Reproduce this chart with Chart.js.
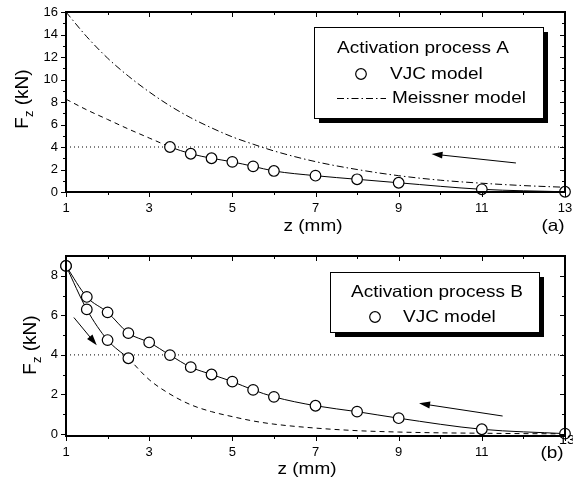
<!DOCTYPE html>
<html>
<head>
<meta charset="utf-8">
<script src="https://cdn.jsdelivr.net/npm/chart.js@4.4.1/dist/chart.umd.min.js"></script>
<style>
    body { margin: 0; background: #fff; }
    #wrap { position: relative; width: 573px; height: 481px; }
    .panel { position: absolute; left: 0; width: 573px; }
    #panelA { top: 0; height: 240px; }
    #panelB { top: 240px; height: 241px; }
</style>
</head>
<body>
<div id="wrap">
    <div class="panel" id="panelA"><canvas id="chartA"></canvas></div>
    <div class="panel" id="panelB"><canvas id="chartB"></canvas></div>
</div>
<script>
// axis ticks
const zTicks = [1, 3, 5, 7, 9, 11, 13];
const zMinor = [2, 4, 6, 8, 10, 12];
const fTicksA = [0, 2, 4, 6, 8, 10, 12, 14, 16];
const fMinorA = [1, 3, 5, 7, 9, 11, 13, 15];
const fTicksB = [0, 2, 4, 6, 8];
const fMinorB = [1, 3, 5, 7];

// panel (a): activation process A
const zVjcA = [3.5, 4, 4.5, 5, 5.5, 6, 7, 8, 9, 11, 13];
const fVjcA = [4.0, 3.4, 3.0, 2.68, 2.28, 1.87, 1.45, 1.13, 0.82, 0.24, 0.02];
const zDashA = [1, 1.5, 2, 2.5, 3, 3.5];
const fDashA = [8.25, 7.3, 6.45, 5.6, 4.8, 4.0];
const zMeissner = [1, 1.5, 2, 2.5, 3, 3.5, 4, 4.5, 5, 5.5, 6, 7, 8, 9, 10, 11, 12, 13];
const fMeissner = [16, 13.8, 11.9, 10.3, 8.9, 7.66, 6.6, 5.7, 4.9, 4.25, 3.65, 2.7, 2.0, 1.45, 1.05, 0.78, 0.57, 0.42];

// panel (b): activation process B
const zVjcB = [1, 1.5, 2, 2.5, 3, 3.5, 4, 4.5, 5, 5.5, 6, 7, 8, 9, 11, 13];
const fVjcB = [8.5, 6.93, 6.15, 5.1, 4.63, 3.99, 3.38, 3.01, 2.65, 2.23, 1.88, 1.43, 1.13, 0.8, 0.24, 0.02];
const zLoadB = [1, 1.5, 2, 2.5];
const fLoadB = [8.5, 6.3, 4.75, 3.83];
const zDashB = [2.5, 3, 3.5, 4, 4.5, 5, 5.5, 6, 7, 8, 9, 10, 11, 12, 13];
const fDashB = [3.83, 2.75, 2.02, 1.48, 1.13, 0.88, 0.66, 0.5, 0.3, 0.17, 0.1, 0.06, 0.04, 0.02, 0.01];

// 4 kN reference level
const zRef = [1, 13];
const fRef = [4, 4];

// arrows, in data units: [z, F] start -> tip
const arrowsA = [[[11.82, 2.58], [9.79, 3.38]]];
const arrowsB = [[[1.19, 5.89], [1.74, 4.49]], [[11.5, 0.91], [9.49, 1.55]]];

const FONT = "'Liberation Sans', Arial, Helvetica, sans-serif";
const STRETCH = 1.15;

Chart.defaults.font.family = FONT;
Chart.defaults.color = '#000';

function pts(xs, ys) {
    return xs.map((x, i) => ({ x, y: ys[i] }));
}

function stretchText(ctx, text, x, y, align, size) {
    ctx.save();
    ctx.font = size + 'px ' + FONT;
    ctx.translate(x, y);
    ctx.scale(STRETCH, 1);
    ctx.textAlign = align;
    ctx.textBaseline = 'middle';
    ctx.fillText(text, 0, 0);
    ctx.restore();
}

function drawArrow(ctx, x0, y0, x1, y1) {
    const ang = Math.atan2(y1 - y0, x1 - x0);
    const len = 11, half = 3.5;
    ctx.beginPath();
    ctx.moveTo(x0, y0);
    ctx.lineTo(x1 - Math.cos(ang) * len * 0.8, y1 - Math.sin(ang) * len * 0.8);
    ctx.stroke();
    ctx.beginPath();
    ctx.moveTo(x1, y1);
    ctx.lineTo(x1 - Math.cos(ang) * len - Math.sin(ang) * half, y1 - Math.sin(ang) * len + Math.cos(ang) * half);
    ctx.lineTo(x1 - Math.cos(ang) * len + Math.sin(ang) * half, y1 - Math.sin(ang) * len - Math.cos(ang) * half);
    ctx.closePath();
    ctx.fill();
}

function vjcDataset(xs, ys) {
    return {
        data: pts(xs, ys),
        borderColor: '#000',
        borderWidth: 1,
        pointRadius: 5.3,
        pointBorderWidth: 1.2,
        pointBackgroundColor: '#fff',
        pointBorderColor: '#000',
        cubicInterpolationMode: 'monotone',
        clip: false
    };
}

function lineDataset(xs, ys, dash) {
    return {
        data: pts(xs, ys),
        borderColor: '#000',
        borderWidth: 1,
        borderDash: dash,
        pointRadius: 0,
        cubicInterpolationMode: 'monotone'
    };
}

// frame, tick marks, legend, titles and arrows
function decoPlugin(cfg) {
    return {
        id: 'deco',
        afterDraw(chart) {
            const ctx = chart.ctx;
            const xs = chart.scales.x;
            const ys = chart.scales.y;
            const left = Math.round(xs.left), right = Math.round(xs.right);
            const top = Math.round(ys.top), bottom = Math.round(ys.bottom);
            ctx.save();
            ctx.setLineDash([]);
            ctx.strokeStyle = '#000';
            ctx.fillStyle = '#000';

            ctx.lineWidth = 2;
            ctx.beginPath();
            ctx.rect(left, top, right - left, bottom - top);
            ctx.stroke();

            ctx.lineWidth = 1;
            ctx.beginPath();
            const xMarks = zTicks.map((v) => [v, 5]).concat(zMinor.map((v) => [v, 3]));
            xMarks.forEach(([v, l]) => {
                const px = Math.round(xs.getPixelForValue(v)) + 0.5;
                ctx.moveTo(px, bottom); ctx.lineTo(px, bottom + l);
                ctx.moveTo(px, top); ctx.lineTo(px, top + l);
            });
            const yMarks = cfg.yTicks.map((v) => [v, 5]).concat(cfg.yMinor.map((v) => [v, 3]));
            yMarks.forEach(([v, l]) => {
                const py = Math.round(ys.getPixelForValue(v)) + 0.5;
                ctx.moveTo(left - l, py); ctx.lineTo(left, py);
                ctx.moveTo(right - l, py); ctx.lineTo(right, py);
            });
            ctx.stroke();

            // legend box with drop shadow
            const lg = cfg.legend;
            ctx.fillRect(lg.x + 5, lg.y + 5, lg.w, lg.h);
            ctx.fillStyle = '#fff';
            ctx.fillRect(lg.x, lg.y, lg.w, lg.h);
            ctx.fillStyle = '#000';
            ctx.lineWidth = 1;
            ctx.strokeRect(lg.x + 0.5, lg.y + 0.5, lg.w, lg.h);
            lg.rows.forEach((r) => {
                if (r.marker === 'circle') {
                    ctx.beginPath();
                    ctx.lineWidth = 1.2;
                    ctx.arc(r.mx, r.y, 5.3, 0, Math.PI * 2);
                    ctx.stroke();
                } else if (r.marker === 'dashdot') {
                    ctx.beginPath();
                    ctx.lineWidth = 1;
                    ctx.setLineDash([7, 3, 1.5, 3]);
                    ctx.moveTo(r.mx, r.y + 0.5);
                    ctx.lineTo(r.mx2, r.y + 0.5);
                    ctx.stroke();
                    ctx.setLineDash([]);
                }
                stretchText(ctx, r.text, r.x, r.y, 'left', 16.5);
            });

            ctx.lineWidth = 1;
            cfg.arrows.forEach(([from, to]) => {
                drawArrow(ctx, xs.getPixelForValue(from[0]), ys.getPixelForValue(from[1]),
                    xs.getPixelForValue(to[0]), ys.getPixelForValue(to[1]));
            });

            // axis titles
            stretchText(ctx, 'z (mm)', cfg.xTitle[0], cfg.xTitle[1], 'center', 16.5);
            stretchText(ctx, cfg.tag, cfg.tagPos[0], cfg.tagPos[1], 'center', 16.5);
            if (cfg.extraLabel) {
                stretchText(ctx, cfg.extraLabel.text, cfg.extraLabel.x, cfg.extraLabel.y, 'center', 12.5);
            }

            ctx.save();
            ctx.translate(cfg.yTitle[0], cfg.yTitle[1]);
            ctx.rotate(-Math.PI / 2);
            ctx.textBaseline = 'middle';
            ctx.textAlign = 'left';
            ctx.font = '19px ' + FONT;
            const wF = ctx.measureText('F').width;
            ctx.font = '13px ' + FONT;
            const wz = ctx.measureText('z').width;
            ctx.font = '19px ' + FONT;
            const wRest = ctx.measureText(' (kN)').width;
            const x0 = -(wF + wz + wRest) / 2;
            ctx.fillText('F', x0, 0);
            ctx.font = '13px ' + FONT;
            ctx.fillText('z', x0 + wF, 6);
            ctx.font = '19px ' + FONT;
            ctx.fillText(' (kN)', x0 + wF + wz, 0);
            ctx.restore();

            ctx.restore();
        }
    };
}

function makeChart(id, datasets, yMin, yMax, yTicks, yAxisPad, xAxisH, topPad, hide13, deco) {
    return new Chart(document.getElementById(id), {
        type: 'line',
        data: { datasets },
        options: {
            responsive: true,
            maintainAspectRatio: false,
            animation: false,
            layout: { padding: { top: topPad, right: 8, left: 0, bottom: 0 } },
            plugins: { legend: { display: false }, tooltip: { enabled: false } },
            scales: {
                x: {
                    type: 'linear',
                    min: 1,
                    max: 13,
                    grid: { display: false, drawTicks: false },
                    border: { display: true, color: '#000', width: 2 },
                    afterBuildTicks: (s) => { s.ticks = zTicks.map((v) => ({ value: v })); },
                    afterFit: (s) => {
                        s.height = xAxisH;
                        s.paddingLeft = 0;
                        s.paddingRight = 0;
                    },
                    ticks: {
                        maxRotation: 0,
                        autoSkip: false,
                        padding: 9,
                        font: { size: 13 },
                        callback: (v) => (hide13 && v === 13 ? '' : String(v))
                    }
                },
                y: {
                    type: 'linear',
                    min: yMin,
                    max: yMax,
                    grid: { display: false, drawTicks: false },
                    border: { display: true, color: '#000', width: 2 },
                    afterBuildTicks: (s) => { s.ticks = yTicks.map((v) => ({ value: v })); },
                    afterFit: (s) => {
                        s.width = yAxisPad;
                        s.paddingTop = 0;
                        s.paddingBottom = 0;
                    },
                    ticks: { padding: 8, font: { size: 13 }, callback: (v) => String(v) }
                }
            }
        },
        plugins: [decoPlugin(deco)]
    });
}

document.addEventListener('DOMContentLoaded', () => {
    makeChart('chartA', [
        vjcDataset(zVjcA, fVjcA),
        lineDataset(zDashA, fDashA, [5, 4]),
        lineDataset(zMeissner, fMeissner, [7, 3, 1.5, 3]),
        lineDataset(zRef, fRef, [1, 3])
    ], 0, 16, fTicksA, 66, 48, 12, false, {
        yTicks: fTicksA,
        yMinor: fMinorA,
        arrows: arrowsA,
        legend: {
            x: 314, y: 27, w: 229, h: 91,
            rows: [
                { text: 'Activation process A', x: 337, y: 48 },
                { text: 'VJC model', x: 390, y: 74, marker: 'circle', mx: 361 },
                { text: 'Meissner model', x: 392, y: 98, marker: 'dashdot', mx: 337, mx2: 386 }
            ]
        },
        xTitle: [313, 226],
        tag: '(a)',
        tagPos: [553, 226],
        yTitle: [23, 99]
    });

    makeChart('chartB', [
        vjcDataset(zVjcB, fVjcB),
        vjcDataset(zLoadB, fLoadB),
        lineDataset(zDashB, fDashB, [5, 4]),
        lineDataset(zRef, fRef, [1, 3])
    ], -0.1, 9, fTicksB, 66, 45, 16, true, {
        yTicks: fTicksB,
        yMinor: fMinorB,
        arrows: arrowsB,
        legend: {
            x: 330, y: 32, w: 209, h: 60,
            rows: [
                { text: 'Activation process B', x: 351, y: 52 },
                { text: 'VJC model', x: 403, y: 77, marker: 'circle', mx: 375 }
            ]
        },
        xTitle: [307, 229],
        tag: '(b)',
        tagPos: [552, 213],
        extraLabel: { text: '13', x: 567, y: 201 },
        yTitle: [31, 105]
    });
});
</script>
</body>
</html>
